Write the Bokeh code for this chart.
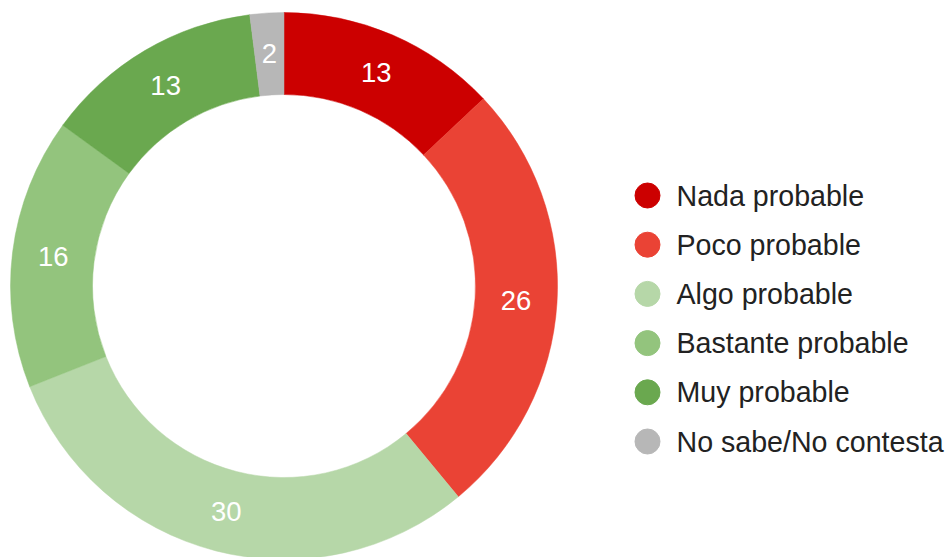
import math
from bokeh.plotting import figure
from bokeh.models import Range1d, ColumnDataSource
from bokeh.core.properties import value
from bokeh.embed import file_html
from bokeh.resources import INLINE

categories = ["Nada probable", "Poco probable", "Algo probable",
              "Bastante probable", "Muy probable", "No sabe/No contesta"]
values = [13, 26, 30, 16, 13, 2]
colors = ["#cc0000", "#ea4335", "#b6d7a8", "#93c47d", "#6aa84f", "#b7b7b7"]

W, H = 946, 557
cx, cy = 283.5, H - 285.5
r_out, r_in = 273.5, 191.5

total = sum(values)
starts, ends, lx, ly = [], [], [], []
cum = 0
for v in values:
    a0 = math.pi / 2 - 2 * math.pi * cum / total
    cum += v
    a1 = math.pi / 2 - 2 * math.pi * cum / total
    starts.append(a0)
    ends.append(a1)
    mid = (a0 + a1) / 2
    rm = (r_out + r_in) / 2
    lx.append(cx + rm * math.cos(mid))
    ly.append(cy + rm * math.sin(mid))

src = ColumnDataSource(dict(start=starts, end=ends, color=colors,
                            lx=lx, ly=ly, lab=[str(v) for v in values],
                            cat=categories))

p = figure(width=W, height=H, output_backend="svg", toolbar_location=None,
           x_range=Range1d(0, W), y_range=Range1d(0, H), min_border=0,
           outline_line_color=None, background_fill_color="white",
           border_fill_color="white")
p.axis.visible = False
p.grid.visible = False

p.annular_wedge(x=cx, y=cy, inner_radius=r_in, outer_radius=r_out,
                start_angle="start", end_angle="end", direction="clock",
                fill_color="color", line_color="color", line_width=0.5,
                source=src)

p.text(x="lx", y="ly", text="lab", source=src, text_color="white",
       text_font=value("Liberation Sans"), text_font_size="27.5px",
       text_align="center", text_baseline="middle")

# legend
leg_x, leg_y0, leg_dy = 647, H - 195, 49.2
src_leg = ColumnDataSource(dict(
    x=[leg_x] * len(categories),
    y=[leg_y0 - i * leg_dy for i in range(len(categories))],
    tx=[leg_x + 29] * len(categories),
    color=colors, cat=categories))
p.scatter(x="x", y="y", size=25, marker="circle", fill_color="color",
          line_color="color", source=src_leg)
p.text(x="tx", y="y", text="cat", source=src_leg, text_color="#222222",
       text_font=value("Liberation Sans"), text_font_size="28.6px",
       text_align="left", text_baseline="middle")

open("out.html", "w").write(file_html(p, INLINE))
